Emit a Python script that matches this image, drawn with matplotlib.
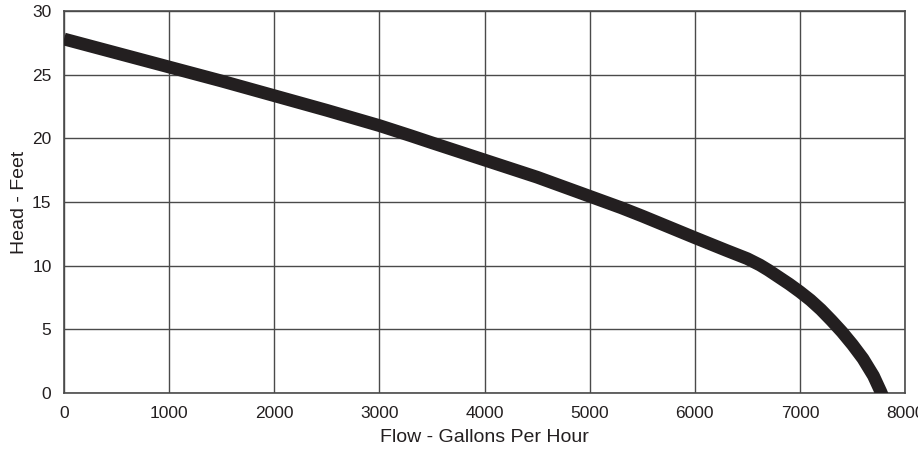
import matplotlib
matplotlib.use("Agg")
import matplotlib.pyplot as plt

# Pump curve
flow_gph = [0, 500, 1000, 1500, 2000, 2500, 3000, 3300, 3500, 4000,
            4500, 5000, 5300, 5500, 6000, 6300, 6500, 6620, 6700, 6800,
            6900, 7000, 7100, 7200, 7300, 7400, 7500, 7600, 7700, 7770, 7800]
head_ft = [27.8, 26.7, 25.6, 24.5, 23.35, 22.2, 21.0, 20.2, 19.65, 18.3,
           16.95, 15.45, 14.55, 13.9, 12.2, 11.2, 10.55, 10.05, 9.65, 9.1,
           8.55, 7.95, 7.3, 6.55, 5.7, 4.8, 3.8, 2.7, 1.35, 0.1, -0.5]

x_ticks = [0, 1000, 2000, 3000, 4000, 5000, 6000, 7000, 8000]
y_ticks = [0, 5, 10, 15, 20, 25, 30]

FONT = ["Liberation Sans", "DejaVu Sans"]
GRID = "#4a4a4a"
INK = "#231f20"


def main():
    fig = plt.figure(figsize=(9.18, 4.54), dpi=100)
    ax = fig.add_axes([64 / 918, 61 / 454, 841 / 918, 382 / 454])

    ax.plot(flow_gph, head_ft, color=INK, linewidth=9.2,
            solid_capstyle="butt", solid_joinstyle="round", zorder=3)

    ax.set_xlim(0, 8000)
    ax.set_ylim(0, 30)
    ax.set_xticks(x_ticks)
    ax.set_yticks(y_ticks)
    ax.grid(True, color=GRID, linewidth=1.0)
    for s in ax.spines.values():
        s.set_color(GRID)
        s.set_linewidth(1.2)

    ax.tick_params(length=0, pad=9, labelsize=12.5, labelcolor=INK)
    for lab in ax.get_xticklabels() + ax.get_yticklabels():
        lab.set_family(FONT)

    ax.set_xlabel("Flow - Gallons Per Hour", family=FONT, fontsize=14,
                  color=INK, labelpad=6)
    ax.set_ylabel("Head - Feet", family=FONT, fontsize=14,
                  color=INK, labelpad=3)

    fig.savefig("out.png", dpi=100)


if __name__ == "__main__":
    main()
